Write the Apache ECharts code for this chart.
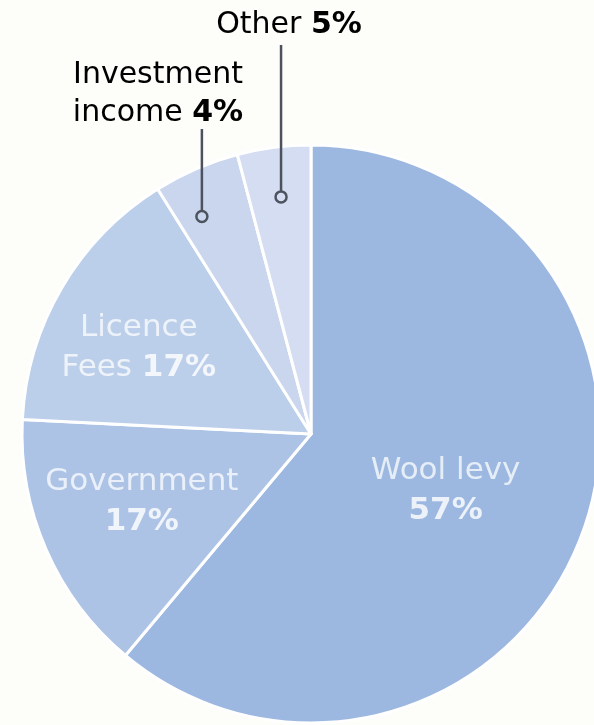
<!DOCTYPE html>
<html><head><meta charset="utf-8">
<script src="https://cdn.jsdelivr.net/npm/echarts@6/dist/echarts.min.js"></script>
<style>html,body{margin:0;padding:0;background:#fdfdfa;} #c{width:594px;height:725px;}</style>
</head><body><div id="c"></div>
<script>
// ---- data ----
const categories = ['Wool levy', 'Government', 'Licence Fees', 'Investment income', 'Other'];
const sliceShares = [61.1, 14.7, 15.3, 4.8, 4.1];          // slice sizes as drawn (% of circle)
const percentLabels = ['57%', '17%', '17%', '4%', '5%'];    // printed labels
const labelTexts = ['Wool levy\n', 'Government\n', 'Licence\nFees ', 'Investment\nincome ', 'Other '];
const markerAngles = [92.6, 98.0];                          // leader marker positions (% around circle)
const markerIndex = [3, 4];

// ---- style / layout ----
const colors = ['#9cb8e0', '#adc3e6', '#bccfea', '#c9d6ee', '#d4ddf1'];
const FONT = '"DejaVu Sans", sans-serif';
const innerOffsets = [[-4, 7], [-34, 9], [-45, -11]];
const markerRadius = [0.842, 0.827];
const outerLayout = { 3: { tx: 158, ty: 94, lineTop: 129 }, 4: { tx: 289, ty: 25, lineTop: 45 } };

const chart = echarts.init(document.getElementById('c'), null, { renderer: 'canvas' });

const innerRich = {
  n: { fontFamily: FONT, fontSize: 31, color: 'rgba(255,255,255,0.74)', lineHeight: 40 },
  b: { fontFamily: FONT, fontSize: 31, fontWeight: 'bold', color: 'rgba(255,255,255,0.82)', lineHeight: 40 }
};
const outerRich = {
  n: { fontFamily: FONT, fontSize: 30, color: '#3b3b3b', lineHeight: 38 },
  b: { fontFamily: FONT, fontSize: 30, fontWeight: 'bold', color: '#262626', lineHeight: 38 }
};

const option = {
  backgroundColor: '#fdfdfa',
  animation: false,
  polar: { center: [311, 434], radius: 289 },
  angleAxis: { type: 'value', min: 0, max: 100, startAngle: 90, clockwise: true, show: false },
  radiusAxis: { type: 'value', min: 0, max: 1, show: false },
  series: [
    {
      type: 'pie',
      z: 1,
      center: [311, 434],
      radius: 289,
      startAngle: 90,
      clockwise: true,
      silent: true,
      avoidLabelOverlap: false,
      itemStyle: { borderColor: '#ffffff', borderWidth: 3 },
      labelLine: { show: false },
      label: {
        position: 'inside',
        formatter: p => `{n|${labelTexts[p.dataIndex]}}{b|${percentLabels[p.dataIndex]}}`,
        rich: innerRich
      },
      data: categories.map((c, i) => ({
        name: c,
        value: sliceShares[i],
        itemStyle: { color: colors[i] },
        label: i < 3 ? { show: true, offset: innerOffsets[i] } : { show: false }
      }))
    },
    {
      type: 'custom',
      coordinateSystem: 'polar',
      z: 10,
      silent: true,
      data: markerIndex.map((k, j) => [markerRadius[j], markerAngles[j], k]),
      renderItem: (params, api) => {
        const k = api.value(2);
        const p = api.coord([api.value(0), api.value(1)]);
        const lay = outerLayout[k];
        const r = 5.5;
        return {
          type: 'group',
          children: [
            { type: 'line', shape: { x1: p[0], y1: lay.lineTop, x2: p[0], y2: p[1] - r },
              style: { stroke: '#4d535e', lineWidth: 2.5 } },
            { type: 'circle', shape: { cx: p[0], cy: p[1], r: r },
              style: { fill: 'none', stroke: '#4d535e', lineWidth: 2.5 } },
            { type: 'text', x: lay.tx, y: lay.ty,
              style: { text: `{n|${labelTexts[k]}}{b|${percentLabels[k]}}`, rich: outerRich,
                       align: 'center', verticalAlign: 'middle' } }
          ]
        };
      }
    }
  ]
};
chart.setOption(option);
</script>
</body></html>
